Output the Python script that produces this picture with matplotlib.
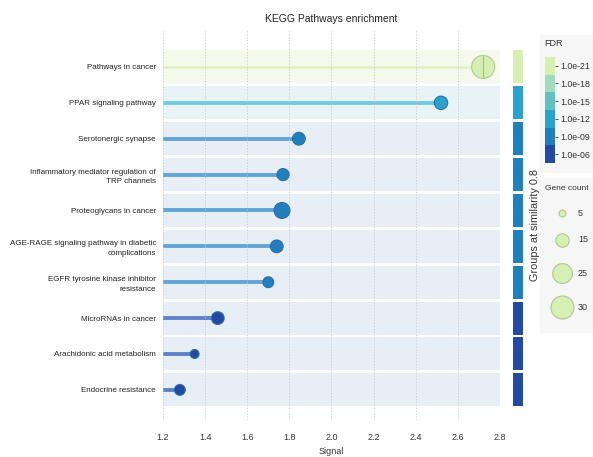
import numpy as np
import matplotlib
matplotlib.use('Agg')
import matplotlib.pyplot as plt
from matplotlib.patches import Rectangle

plt.rcParams['font.family'] = ['Liberation Sans', 'DejaVu Sans']

# data
pathways = ['Pathways in cancer', 'PPAR signaling pathway', 'Serotonergic synapse',
            'Inflammatory mediator regulation of\nTRP channels', 'Proteoglycans in cancer',
            'AGE-RAGE signaling pathway in diabetic\ncomplications',
            'EGFR tyrosine kinase inhibitor\nresistance', 'MicroRNAs in cancer',
            'Arachidonic acid metabolism', 'Endocrine resistance']
signal = [2.72, 2.52, 1.845, 1.77, 1.765, 1.74, 1.70, 1.46, 1.35, 1.28]
gene_count = [30, 15, 14, 13, 19, 14, 11, 14, 8, 11]
fdr_level = [0, 3, 4, 4, 4, 4, 4, 5, 5, 5]      # index into fdr colour steps
group = [0, 1, 2, 2, 2, 2, 2, 3, 3, 3]

fdr_labels = ['1.0e-21', '1.0e-18', '1.0e-15', '1.0e-12', '1.0e-09', '1.0e-06']
fdr_colors = ['#d6efb3', '#a3dbc1', '#5fc1c0', '#2ba2cb', '#2180bc', '#2349a0']
stem_colors = ['#def2c6', '#a3dbc1', '#7fcfd0', '#74cbe0', '#62a5d6', '#5f83c8']
band_colors = ['#f4f9ec', '#e8f3f6', '#e8eef6', '#e8eef6']
group_colors = ['#d6efb3', '#2ba2cb', '#2180bc', '#2349a0']

legend_counts = [5, 15, 25, 30]


def diam_pt(c):
    # dot diameter in px grows linearly with gene count
    return (3.8 + 0.64 * c) * 72 / 100


fig = plt.figure(figsize=(5.93, 4.57), dpi=100)

# legend backgrounds
fig.patches.append(Rectangle((540 / 593, 1 - 172 / 457), 60 / 593, 137 / 457,
                             transform=fig.transFigure, color='#f6f6f6', zorder=-5))
fig.patches.append(Rectangle((540 / 593, 1 - 332 / 457), 60 / 593, 154 / 457,
                             transform=fig.transFigure, color='#f6f6f6', zorder=-5))

ax = fig.add_axes([163 / 593, 1 - 420 / 457, 337 / 593, 390 / 457])

n = len(pathways)
y = np.arange(n)
ax.set_xlim(1.2, 2.8)
ax.set_ylim(9.84, -1.03)

for i in range(n):
    ax.barh(i, 1.6, left=1.2, height=0.92, color=band_colors[group[i]], zorder=0)

ax.set_xticks(np.arange(1.2, 2.81, 0.2))
ax.xaxis.grid(True, linestyle=(0, (1.5, 2)), color='#c8c8c8', linewidth=0.6, zorder=1)
ax.set_axisbelow(False)

for i in range(n):
    lw = 1.8 if i == 0 else 2.8
    ax.plot([1.2, signal[i]], [i, i], color=stem_colors[fdr_level[i]], lw=lw,
            solid_capstyle='butt', zorder=2)

sizes = [diam_pt(c) ** 2 for c in gene_count]
cols = [fdr_colors[k] for k in fdr_level]
edges = ['#b2c796' if k == 0 else '#2d6fa8' for k in fdr_level]
ax.scatter(signal, y, s=sizes, c=cols, edgecolors=edges, linewidths=0.8, zorder=3)
ax.scatter(signal[:1], y[:1], s=sizes[:1], marker='|', color='#a9bb8c', linewidths=0.8, zorder=4)

ax.set_yticks(y)
ax.set_yticklabels(pathways, fontsize=5.8, linespacing=1.5, color='#222222')
ax.tick_params(axis='y', length=0, pad=5)
ax.tick_params(axis='x', length=0, pad=9, labelsize=6.5, labelcolor='#333333')
ax.set_xticklabels(['%.1f' % v for v in np.arange(1.2, 2.81, 0.2)])
ax.set_xlabel('Signal', fontsize=6.5, labelpad=4, color='#333333')
ax.set_title('KEGG Pathways enrichment', fontsize=7.5, pad=6, color='#222222')
for s in ax.spines.values():
    s.set_visible(False)

# groups strip
gax = fig.add_axes([513 / 593, 1 - 420 / 457, 10 / 593, 390 / 457], sharey=ax)
gax.set_xlim(0, 1)
for i in range(n):
    gax.barh(i, 1, height=0.92, color=group_colors[group[i]])
gax.axis('off')
fig.text(535 / 593, 1 - 225 / 457, 'Groups at similarity 0.8', rotation=90,
         ha='center', va='center', fontsize=7.8, color='#333333')

# FDR colour bar
cax = fig.add_axes([545 / 593, 1 - 163 / 457, 10 / 593, 106 / 457])
for k, c in enumerate(fdr_colors):
    cax.bar(0, 1, bottom=k, width=1, color=c)
cax.set_xlim(-0.5, 0.5)
cax.set_ylim(len(fdr_colors), 0)
cax.set_xticks([])
cax.yaxis.tick_right()
cax.set_yticks(np.arange(len(fdr_labels)) + 0.5)
cax.set_yticklabels(fdr_labels, fontsize=6.3, color='#333333')
cax.tick_params(axis='y', length=2, width=0.6, pad=1.5, colors='#333333')
for s in cax.spines.values():
    s.set_visible(False)
fig.text(544 / 593, 1 - 44 / 457, 'FDR', fontsize=6.5, ha='left', va='center', color='#333333')

# gene count legend
lax = fig.add_axes([540 / 593, 1 - 332 / 457, 53 / 593, 154 / 457])
lax.set_xlim(540, 593)
lax.set_ylim(332, 178)
lax.axis('off')
lax.text(545, 189, 'Gene count', fontsize=6, ha='left', va='center', color='#333333')
leg_y = [213, 240, 273, 307]
for c, yy in zip(legend_counts, leg_y):
    lax.scatter(562, yy, s=diam_pt(c) ** 2, color='#d6efb3', edgecolors='#b2c796', linewidths=0.8)
    lax.text(578, yy, str(c), fontsize=6.5, ha='left', va='center', color='#333333')

fig.savefig('out.png', dpi=100)
